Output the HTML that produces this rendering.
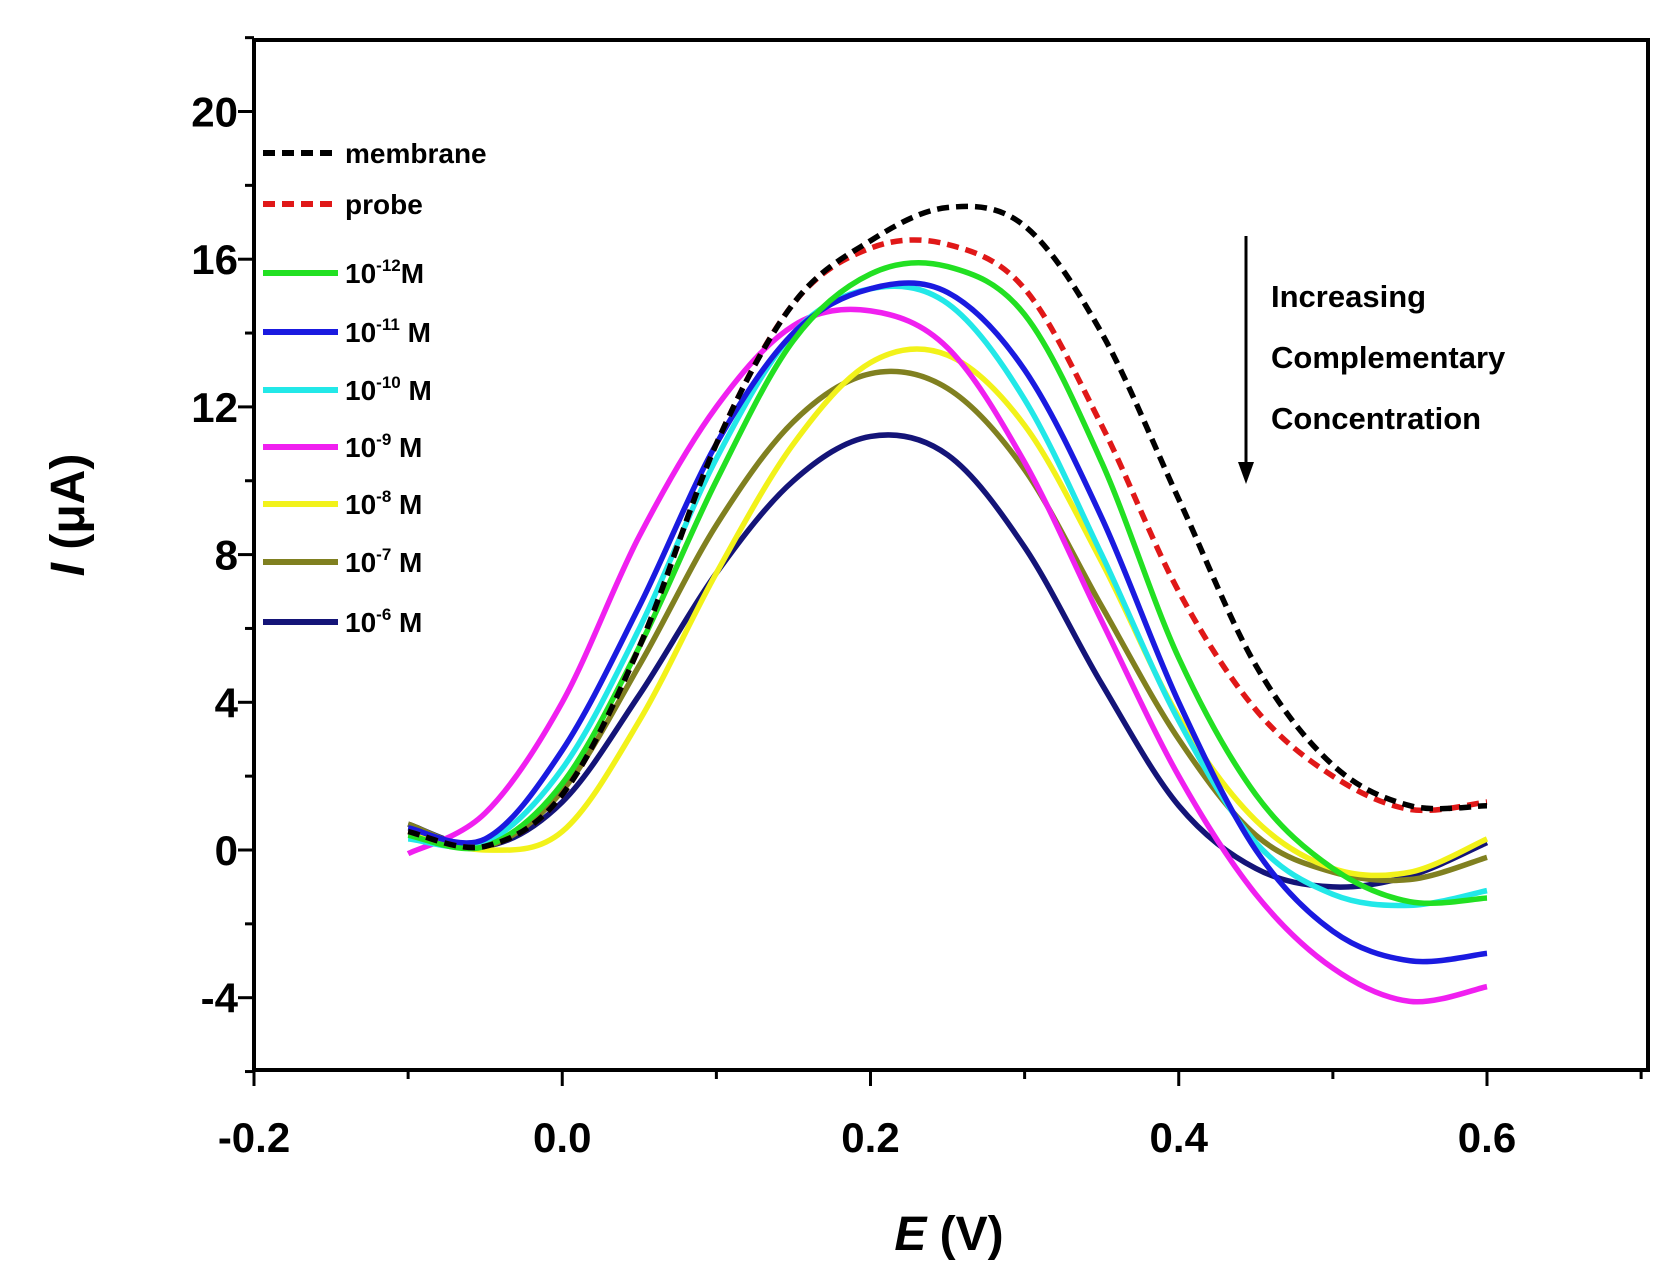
<!DOCTYPE html>
<html><head><meta charset="utf-8"><style>body{margin:0;background:#fff}svg{display:block}text{font-family:"Liberation Sans",sans-serif;font-weight:bold}</style></head>
<body>
<svg id="chart" width="1673" height="1283" viewBox="0 0 1673 1283"></svg>
<script>
const potentials=[-0.1,-0.05,0,0.05,0.1,0.15,0.2,0.25,0.3,0.35,0.4,0.45,0.5,0.55,0.6];
const membrane=[0.5,0.1,1.5,5.5,11,14.8,16.5,17.4,16.9,14,9.5,5,2.3,1.2,1.2];
const probe=[0.5,0.1,1.5,5.5,11,14.8,16.3,16.4,15.2,11.5,7,3.8,2.0,1.1,1.3];
const c12=[0.4,0.1,1.8,5.5,10,13.8,15.6,15.8,14.5,10.5,5.2,1.5,-0.5,-1.4,-1.3];
const c11=[0.6,0.3,2.7,6.6,11,14,15.2,15.1,13,9,4,0,-2.2,-3.0,-2.8];
const c10=[0.3,0.2,2.2,6,10.6,14,15.2,14.8,12.2,8,3.5,0.2,-1.2,-1.5,-1.1];
const c9=[-0.1,1.0,4.0,8.5,12,14.2,14.6,13.6,10.5,6.2,2,-1.2,-3.2,-4.1,-3.7];
const c8=[0.5,0,0.5,3.5,7.5,11,13.2,13.4,11.5,7.8,3.6,0.8,-0.5,-0.6,0.3];
const c7=[0.7,0.1,1.6,5,8.8,11.6,12.9,12.5,10.3,6.6,3,0.4,-0.6,-0.8,-0.2];
const c6=[0.7,0.1,1.3,4.2,7.5,10,11.2,10.7,8.2,4.5,1.2,-0.5,-1.0,-0.7,0.2];
const xTicks=[-0.2,0.0,0.2,0.4,0.6];
const xTickLabels=["-0.2","0.0","0.2","0.4","0.6"];
const yTicks=[-4,0,4,8,12,16,20];
const yTickLabels=["-4","0","4","8","12","16","20"];
const NS="http://www.w3.org/2000/svg";
const svg=document.getElementById('chart');
const L=254,R=1648,T=40,B=1070;
const X=v=>254+(v+0.2)*(1487-254)/0.8;
const Y=v=>850-v*(850-111.5)/20;
function mk(tag,attrs,parent){const e=document.createElementNS(NS,tag);for(const k in attrs)e.setAttribute(k,attrs[k]);(parent||svg).appendChild(e);return e;}
const frame=mk('rect',{x:L,y:T,width:R-L,height:B-T,fill:'none',stroke:'#000','stroke-width':4});


for(let v=-0.2;v<=0.701;v+=0.1){const big=Math.abs((Math.round(v*10))%2)===0;
const t=mk('line',{x1:X(v),x2:X(v),y1:B,y2:B+(big?16:9),stroke:'#000','stroke-width':3});

}
xTicks.forEach((v,i)=>{const t=mk('text',{x:X(v),y:B+82,'text-anchor':'middle','font-size':42});t.textContent=xTickLabels[i];

});
for(let v=-6;v<=22;v+=2){const big=v%4===0;
const t=mk('line',{x1:L,x2:L-(big?16:9),y1:Y(v),y2:Y(v),stroke:'#000','stroke-width':3});

}
yTicks.forEach((v,i)=>{const t=mk('text',{x:L-16,y:Y(v)+15,'text-anchor':'end','font-size':42});t.textContent=yTickLabels[i];

});
const xt=mk('text',{x:949,y:1250,'text-anchor':'middle','font-size':48});xt.innerHTML='<tspan font-style="italic">E</tspan> (V)';


const yt=mk('text',{x:0,y:0,'text-anchor':'middle','font-size':48,transform:'translate(84,515) rotate(-90)'});yt.innerHTML='<tspan font-style="italic">I</tspan> (μA)';


function path(vals){const p=potentials.map((e,i)=>[X(e),Y(vals[i])]);let d=`M${p[0][0]},${p[0][1]}`;
for(let i=0;i<p.length-1;i++){const p0=p[Math.max(0,i-1)],p1=p[i],p2=p[i+1],p3=p[Math.min(p.length-1,i+2)];
d+=` C${p1[0]+(p2[0]-p0[0])/6},${p1[1]+(p2[1]-p0[1])/6} ${p2[0]-(p3[0]-p1[0])/6},${p2[1]-(p3[1]-p1[1])/6} ${p2[0]},${p2[1]}`;}return d;}
const series=[
{n:'membrane',v:membrane,c:'#000',dash:'12 7',lab:'membrane'},
{n:'probe',v:probe,c:'#e01818',dash:'12 7',lab:'probe'},
{n:'1e-12',v:c12,c:'#22e022',lab:'10<tspan dy="-12" font-size="17">-12</tspan><tspan dy="12">M</tspan>'},
{n:'1e-11',v:c11,c:'#1a1ae0',lab:'10<tspan dy="-12" font-size="17">-11</tspan><tspan dy="12"> M</tspan>'},
{n:'1e-10',v:c10,c:'#22e8e8',lab:'10<tspan dy="-12" font-size="17">-10</tspan><tspan dy="12"> M</tspan>'},
{n:'1e-9',v:c9,c:'#f020f0',lab:'10<tspan dy="-12" font-size="17">-9</tspan><tspan dy="12"> M</tspan>'},
{n:'1e-8',v:c8,c:'#f2f21a',lab:'10<tspan dy="-12" font-size="17">-8</tspan><tspan dy="12"> M</tspan>'},
{n:'1e-7',v:c7,c:'#808020',lab:'10<tspan dy="-12" font-size="17">-7</tspan><tspan dy="12"> M</tspan>'},
{n:'1e-6',v:c6,c:'#141478',lab:'10<tspan dy="-12" font-size="17">-6</tspan><tspan dy="12"> M</tspan>'}];
const legY=[153,204,273,332,390,447,504,562,622];
[...series].reverse().forEach(s=>{const p=mk('path',{d:path(s.v),fill:'none',stroke:s.c,'stroke-width':5.5,'stroke-dasharray':s.dash||'none'});

});
series.forEach((s,i)=>{const g=mk('g',{});


mk('line',{x1:263,x2:338,y1:legY[i],y2:legY[i],stroke:s.c,'stroke-width':6,'stroke-dasharray':s.dash||'none'},g);
const t=mk('text',{x:345,y:legY[i]+10,'font-size':28},g);t.innerHTML=s.lab;});
const ar=mk('g',{});


mk('line',{x1:1246,x2:1246,y1:236,y2:470,stroke:'#000','stroke-width':3},ar);
mk('polygon',{points:'1238,462 1254,462 1246,484',fill:'#000'},ar);
['Increasing','Complementary','Concentration'].forEach((w,i)=>{const t=mk('text',{x:1271,y:307+i*61,'font-size':31});t.textContent=w;

});
</script>
</body></html>
